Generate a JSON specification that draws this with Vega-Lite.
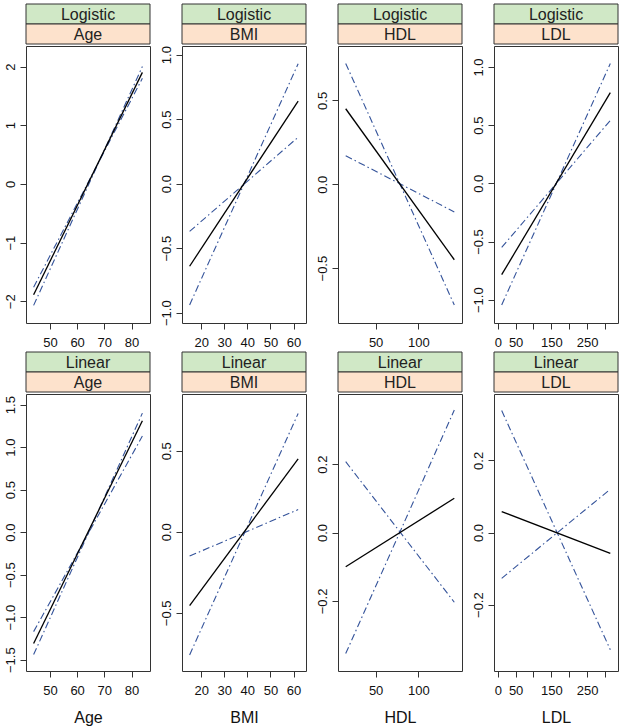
{
  "$schema": "https://vega.github.io/schema/vega-lite/v6.json",
  "padding": {"left": 3, "top": 3, "right": 2, "bottom": 5},
  "background": "white",
  "config": {
    "view": {"stroke": null},
    "font": "Liberation Sans",
    "axis": {"domain": false, "grid": false, "ticks": true, "tickSize": 6, "tickColor": "#333333", "tickWidth": 1, "labelFont": "Liberation Sans", "labelFontSize": 13, "labelColor": "#111111", "labelFlush": false, "labelOverlap": false, "titleFont": "Liberation Sans", "titleFontSize": 16, "titleFontWeight": "normal", "titleColor": "#111111"},
    "axisX": {"labelPadding": 7, "titlePadding": 12},
    "axisY": {"labelAngle": -90, "labelPadding": 3}
  },
  "datasets": {
    "strips": [
      {"panel": "LogAge", "level": "model", "label": "Logistic"}, {"panel": "LogAge", "level": "var", "label": "Age"},
      {"panel": "LogBMI", "level": "model", "label": "Logistic"}, {"panel": "LogBMI", "level": "var", "label": "BMI"},
      {"panel": "LogHDL", "level": "model", "label": "Logistic"}, {"panel": "LogHDL", "level": "var", "label": "HDL"},
      {"panel": "LogLDL", "level": "model", "label": "Logistic"}, {"panel": "LogLDL", "level": "var", "label": "LDL"},
      {"panel": "LinAge", "level": "model", "label": "Linear"}, {"panel": "LinAge", "level": "var", "label": "Age"},
      {"panel": "LinBMI", "level": "model", "label": "Linear"}, {"panel": "LinBMI", "level": "var", "label": "BMI"},
      {"panel": "LinHDL", "level": "model", "label": "Linear"}, {"panel": "LinHDL", "level": "var", "label": "HDL"},
      {"panel": "LinLDL", "level": "model", "label": "Linear"}, {"panel": "LinLDL", "level": "var", "label": "LDL"}
    ],
    "lines": [
      {"panel": "LogAge", "line": "est", "x": 44, "y": -1.89}, {"panel": "LogAge", "line": "est", "x": 84, "y": 1.9},
      {"panel": "LogAge", "line": "b1", "x": 44, "y": -2.07}, {"panel": "LogAge", "line": "b1", "x": 84, "y": 2.0},
      {"panel": "LogAge", "line": "b2", "x": 44, "y": -1.76}, {"panel": "LogAge", "line": "b2", "x": 84, "y": 1.8},
      {"panel": "LogBMI", "line": "est", "x": 15, "y": -0.64}, {"panel": "LogBMI", "line": "est", "x": 62, "y": 0.64},
      {"panel": "LogBMI", "line": "b1", "x": 15, "y": -0.94}, {"panel": "LogBMI", "line": "b1", "x": 62, "y": 0.93},
      {"panel": "LogBMI", "line": "b2", "x": 15, "y": -0.37}, {"panel": "LogBMI", "line": "b2", "x": 62, "y": 0.36},
      {"panel": "LogHDL", "line": "est", "x": 15, "y": 0.45}, {"panel": "LogHDL", "line": "est", "x": 142, "y": -0.45},
      {"panel": "LogHDL", "line": "b1", "x": 15, "y": 0.72}, {"panel": "LogHDL", "line": "b1", "x": 142, "y": -0.72},
      {"panel": "LogHDL", "line": "b2", "x": 15, "y": 0.17}, {"panel": "LogHDL", "line": "b2", "x": 142, "y": -0.165},
      {"panel": "LogLDL", "line": "est", "x": 11, "y": -0.785}, {"panel": "LogLDL", "line": "est", "x": 315, "y": 0.78},
      {"panel": "LogLDL", "line": "b1", "x": 11, "y": -1.045}, {"panel": "LogLDL", "line": "b1", "x": 315, "y": 1.03},
      {"panel": "LogLDL", "line": "b2", "x": 11, "y": -0.55}, {"panel": "LogLDL", "line": "b2", "x": 315, "y": 0.54},
      {"panel": "LinAge", "line": "est", "x": 44, "y": -1.31}, {"panel": "LinAge", "line": "est", "x": 84, "y": 1.31},
      {"panel": "LinAge", "line": "b1", "x": 44, "y": -1.44}, {"panel": "LinAge", "line": "b1", "x": 84, "y": 1.4},
      {"panel": "LinAge", "line": "b2", "x": 44, "y": -1.17}, {"panel": "LinAge", "line": "b2", "x": 84, "y": 1.13},
      {"panel": "LinBMI", "line": "est", "x": 15, "y": -0.455}, {"panel": "LinBMI", "line": "est", "x": 62, "y": 0.45},
      {"panel": "LinBMI", "line": "b1", "x": 15, "y": -0.76}, {"panel": "LinBMI", "line": "b1", "x": 62, "y": 0.73},
      {"panel": "LinBMI", "line": "b2", "x": 15, "y": -0.15}, {"panel": "LinBMI", "line": "b2", "x": 62, "y": 0.137},
      {"panel": "LinHDL", "line": "est", "x": 15, "y": -0.1}, {"panel": "LinHDL", "line": "est", "x": 142, "y": 0.1},
      {"panel": "LinHDL", "line": "b1", "x": 15, "y": -0.354}, {"panel": "LinHDL", "line": "b1", "x": 142, "y": 0.358},
      {"panel": "LinHDL", "line": "b2", "x": 15, "y": 0.207}, {"panel": "LinHDL", "line": "b2", "x": 142, "y": -0.204},
      {"panel": "LinLDL", "line": "est", "x": 11, "y": 0.058}, {"panel": "LinLDL", "line": "est", "x": 315, "y": -0.058},
      {"panel": "LinLDL", "line": "b1", "x": 11, "y": 0.338}, {"panel": "LinLDL", "line": "b1", "x": 315, "y": -0.325},
      {"panel": "LinLDL", "line": "b2", "x": 11, "y": -0.127}, {"panel": "LinLDL", "line": "b2", "x": 315, "y": 0.12}
    ]
  },
  "spacing": 1,
  "vconcat": [
    {
      "spacing": 8,
      "hconcat": [
        {"spacing": 0, "vconcat": [
          {"width": 124, "height": 40, "data": {"name": "strips"}, "transform": [{"filter": "datum.panel === 'LogAge'"}],
           "layer": [
             {"mark": {"type": "rect", "stroke": "#333333", "strokeWidth": 1}, "encoding": {"y": {"field": "level", "type": "ordinal", "axis": null, "scale": {"paddingInner": 0, "paddingOuter": 0}}, "fill": {"field": "level", "type": "nominal", "scale": {"domain": ["model", "var"], "range": ["#d0e8c6", "#fde2cc"]}, "legend": null}}},
             {"mark": {"type": "text", "fontSize": 16, "fill": "#222222", "baseline": "alphabetic", "dy": 6}, "encoding": {"y": {"field": "level", "type": "ordinal", "axis": null}, "text": {"field": "label"}}}
           ]},
          {"width": 124, "height": 277, "view": {"stroke": "#333333"}, "data": {"name": "lines"}, "transform": [{"filter": "datum.panel === 'LogAge'"}],
           "encoding": {
             "x": {"field": "x", "type": "quantitative", "scale": {"domain": [41.2, 86.8], "nice": false, "zero": false}, "axis": {"values": [50, 60, 70, 80], "title": null}},
             "y": {"field": "y", "type": "quantitative", "scale": {"domain": [-2.37, 2.35], "nice": false, "zero": false}, "axis": {"values": [-2, -1, 0, 1, 2], "format": "d", "title": null}}
           },
           "layer": [
             {"transform": [{"filter": "datum.line !== 'est'"}], "mark": {"type": "line", "color": "#34539a", "strokeWidth": 1.1, "strokeDash": [7, 3, 1.5, 3]}, "encoding": {"detail": {"field": "line"}}},
             {"transform": [{"filter": "datum.line === 'est'"}], "mark": {"type": "line", "color": "#000000", "strokeWidth": 1.3}, "encoding": {}}
           ]}
        ]},
        {"spacing": 0, "vconcat": [
          {"width": 124, "height": 40, "data": {"name": "strips"}, "transform": [{"filter": "datum.panel === 'LogBMI'"}],
           "layer": [
             {"mark": {"type": "rect", "stroke": "#333333", "strokeWidth": 1}, "encoding": {"y": {"field": "level", "type": "ordinal", "axis": null, "scale": {"paddingInner": 0, "paddingOuter": 0}}, "fill": {"field": "level", "type": "nominal", "scale": {"domain": ["model", "var"], "range": ["#d0e8c6", "#fde2cc"]}, "legend": null}}},
             {"mark": {"type": "text", "fontSize": 16, "fill": "#222222", "baseline": "alphabetic", "dy": 6}, "encoding": {"y": {"field": "level", "type": "ordinal", "axis": null}, "text": {"field": "label"}}}
           ]},
          {"width": 124, "height": 277, "view": {"stroke": "#333333"}, "data": {"name": "lines"}, "transform": [{"filter": "datum.panel === 'LogBMI'"}],
           "encoding": {
             "x": {"field": "x", "type": "quantitative", "scale": {"domain": [11.7, 65.4], "nice": false, "zero": false}, "axis": {"values": [20, 30, 40, 50, 60], "title": null}},
             "y": {"field": "y", "type": "quantitative", "scale": {"domain": [-1.08, 1.067], "nice": false, "zero": false}, "axis": {"values": [-1, -0.5, 0, 0.5, 1], "format": ".1f", "title": null}}
           },
           "layer": [
             {"transform": [{"filter": "datum.line !== 'est'"}], "mark": {"type": "line", "color": "#34539a", "strokeWidth": 1.1, "strokeDash": [7, 3, 1.5, 3]}, "encoding": {"detail": {"field": "line"}}},
             {"transform": [{"filter": "datum.line === 'est'"}], "mark": {"type": "line", "color": "#000000", "strokeWidth": 1.3}, "encoding": {}}
           ]}
        ]},
        {"spacing": 0, "vconcat": [
          {"width": 124, "height": 40, "data": {"name": "strips"}, "transform": [{"filter": "datum.panel === 'LogHDL'"}],
           "layer": [
             {"mark": {"type": "rect", "stroke": "#333333", "strokeWidth": 1}, "encoding": {"y": {"field": "level", "type": "ordinal", "axis": null, "scale": {"paddingInner": 0, "paddingOuter": 0}}, "fill": {"field": "level", "type": "nominal", "scale": {"domain": ["model", "var"], "range": ["#d0e8c6", "#fde2cc"]}, "legend": null}}},
             {"mark": {"type": "text", "fontSize": 16, "fill": "#222222", "baseline": "alphabetic", "dy": 6}, "encoding": {"y": {"field": "level", "type": "ordinal", "axis": null}, "text": {"field": "label"}}}
           ]},
          {"width": 124, "height": 277, "view": {"stroke": "#333333"}, "data": {"name": "lines"}, "transform": [{"filter": "datum.panel === 'LogHDL'"}],
           "encoding": {
             "x": {"field": "x", "type": "quantitative", "scale": {"domain": [6, 151], "nice": false, "zero": false}, "axis": {"values": [50, 100], "title": null}},
             "y": {"field": "y", "type": "quantitative", "scale": {"domain": [-0.827, 0.824], "nice": false, "zero": false}, "axis": {"values": [-0.5, 0, 0.5], "format": ".1f", "title": null}}
           },
           "layer": [
             {"transform": [{"filter": "datum.line !== 'est'"}], "mark": {"type": "line", "color": "#34539a", "strokeWidth": 1.1, "strokeDash": [7, 3, 1.5, 3]}, "encoding": {"detail": {"field": "line"}}},
             {"transform": [{"filter": "datum.line === 'est'"}], "mark": {"type": "line", "color": "#000000", "strokeWidth": 1.3}, "encoding": {}}
           ]}
        ]},
        {"spacing": 0, "vconcat": [
          {"width": 124, "height": 40, "data": {"name": "strips"}, "transform": [{"filter": "datum.panel === 'LogLDL'"}],
           "layer": [
             {"mark": {"type": "rect", "stroke": "#333333", "strokeWidth": 1}, "encoding": {"y": {"field": "level", "type": "ordinal", "axis": null, "scale": {"paddingInner": 0, "paddingOuter": 0}}, "fill": {"field": "level", "type": "nominal", "scale": {"domain": ["model", "var"], "range": ["#d0e8c6", "#fde2cc"]}, "legend": null}}},
             {"mark": {"type": "text", "fontSize": 16, "fill": "#222222", "baseline": "alphabetic", "dy": 6}, "encoding": {"y": {"field": "level", "type": "ordinal", "axis": null}, "text": {"field": "label"}}}
           ]},
          {"width": 124, "height": 277, "view": {"stroke": "#333333"}, "data": {"name": "lines"}, "transform": [{"filter": "datum.panel === 'LogLDL'"}],
           "encoding": {
             "x": {"field": "x", "type": "quantitative", "scale": {"domain": [-10.5, 336.5], "nice": false, "zero": false}, "axis": {"values": [0, 50, 100, 150, 200, 250, 300], "labelExpr": "datum.value === 100 || datum.value === 200 || datum.value === 300 ? '' : datum.label", "title": null}},
             "y": {"field": "y", "type": "quantitative", "scale": {"domain": [-1.2, 1.18], "nice": false, "zero": false}, "axis": {"values": [-1, -0.5, 0, 0.5, 1], "format": ".1f", "title": null}}
           },
           "layer": [
             {"transform": [{"filter": "datum.line !== 'est'"}], "mark": {"type": "line", "color": "#34539a", "strokeWidth": 1.1, "strokeDash": [7, 3, 1.5, 3]}, "encoding": {"detail": {"field": "line"}}},
             {"transform": [{"filter": "datum.line === 'est'"}], "mark": {"type": "line", "color": "#000000", "strokeWidth": 1.3}, "encoding": {}}
           ]}
        ]}
      ]
    },
    {
      "spacing": 8,
      "hconcat": [
        {"spacing": 0, "vconcat": [
          {"width": 124, "height": 40, "data": {"name": "strips"}, "transform": [{"filter": "datum.panel === 'LinAge'"}],
           "layer": [
             {"mark": {"type": "rect", "stroke": "#333333", "strokeWidth": 1}, "encoding": {"y": {"field": "level", "type": "ordinal", "axis": null, "scale": {"paddingInner": 0, "paddingOuter": 0}}, "fill": {"field": "level", "type": "nominal", "scale": {"domain": ["model", "var"], "range": ["#d0e8c6", "#fde2cc"]}, "legend": null}}},
             {"mark": {"type": "text", "fontSize": 16, "fill": "#222222", "baseline": "alphabetic", "dy": 6}, "encoding": {"y": {"field": "level", "type": "ordinal", "axis": null}, "text": {"field": "label"}}}
           ]},
          {"width": 124, "height": 277, "view": {"stroke": "#333333"}, "data": {"name": "lines"}, "transform": [{"filter": "datum.panel === 'LinAge'"}],
           "encoding": {
             "x": {"field": "x", "type": "quantitative", "scale": {"domain": [41.2, 86.8], "nice": false, "zero": false}, "axis": {"values": [50, 60, 70, 80], "title": "Age"}},
             "y": {"field": "y", "type": "quantitative", "scale": {"domain": [-1.633, 1.625], "nice": false, "zero": false}, "axis": {"values": [-1.5, -1, -0.5, 0, 0.5, 1, 1.5], "format": ".1f", "title": null}}
           },
           "layer": [
             {"transform": [{"filter": "datum.line !== 'est'"}], "mark": {"type": "line", "color": "#34539a", "strokeWidth": 1.1, "strokeDash": [7, 3, 1.5, 3]}, "encoding": {"detail": {"field": "line"}}},
             {"transform": [{"filter": "datum.line === 'est'"}], "mark": {"type": "line", "color": "#000000", "strokeWidth": 1.3}, "encoding": {}}
           ]}
        ]},
        {"spacing": 0, "vconcat": [
          {"width": 124, "height": 40, "data": {"name": "strips"}, "transform": [{"filter": "datum.panel === 'LinBMI'"}],
           "layer": [
             {"mark": {"type": "rect", "stroke": "#333333", "strokeWidth": 1}, "encoding": {"y": {"field": "level", "type": "ordinal", "axis": null, "scale": {"paddingInner": 0, "paddingOuter": 0}}, "fill": {"field": "level", "type": "nominal", "scale": {"domain": ["model", "var"], "range": ["#d0e8c6", "#fde2cc"]}, "legend": null}}},
             {"mark": {"type": "text", "fontSize": 16, "fill": "#222222", "baseline": "alphabetic", "dy": 6}, "encoding": {"y": {"field": "level", "type": "ordinal", "axis": null}, "text": {"field": "label"}}}
           ]},
          {"width": 124, "height": 277, "view": {"stroke": "#333333"}, "data": {"name": "lines"}, "transform": [{"filter": "datum.panel === 'LinBMI'"}],
           "encoding": {
             "x": {"field": "x", "type": "quantitative", "scale": {"domain": [11.7, 65.4], "nice": false, "zero": false}, "axis": {"values": [20, 30, 40, 50, 60], "title": "BMI"}},
             "y": {"field": "y", "type": "quantitative", "scale": {"domain": [-0.859, 0.85], "nice": false, "zero": false}, "axis": {"values": [-0.5, 0, 0.5], "format": ".1f", "title": null}}
           },
           "layer": [
             {"transform": [{"filter": "datum.line !== 'est'"}], "mark": {"type": "line", "color": "#34539a", "strokeWidth": 1.1, "strokeDash": [7, 3, 1.5, 3]}, "encoding": {"detail": {"field": "line"}}},
             {"transform": [{"filter": "datum.line === 'est'"}], "mark": {"type": "line", "color": "#000000", "strokeWidth": 1.3}, "encoding": {}}
           ]}
        ]},
        {"spacing": 0, "vconcat": [
          {"width": 124, "height": 40, "data": {"name": "strips"}, "transform": [{"filter": "datum.panel === 'LinHDL'"}],
           "layer": [
             {"mark": {"type": "rect", "stroke": "#333333", "strokeWidth": 1}, "encoding": {"y": {"field": "level", "type": "ordinal", "axis": null, "scale": {"paddingInner": 0, "paddingOuter": 0}}, "fill": {"field": "level", "type": "nominal", "scale": {"domain": ["model", "var"], "range": ["#d0e8c6", "#fde2cc"]}, "legend": null}}},
             {"mark": {"type": "text", "fontSize": 16, "fill": "#222222", "baseline": "alphabetic", "dy": 6}, "encoding": {"y": {"field": "level", "type": "ordinal", "axis": null}, "text": {"field": "label"}}}
           ]},
          {"width": 124, "height": 277, "view": {"stroke": "#333333"}, "data": {"name": "lines"}, "transform": [{"filter": "datum.panel === 'LinHDL'"}],
           "encoding": {
             "x": {"field": "x", "type": "quantitative", "scale": {"domain": [6, 151], "nice": false, "zero": false}, "axis": {"values": [50, 100], "title": "HDL"}},
             "y": {"field": "y", "type": "quantitative", "scale": {"domain": [-0.405, 0.405], "nice": false, "zero": false}, "axis": {"values": [-0.2, 0, 0.2], "format": ".1f", "title": null}}
           },
           "layer": [
             {"transform": [{"filter": "datum.line !== 'est'"}], "mark": {"type": "line", "color": "#34539a", "strokeWidth": 1.1, "strokeDash": [7, 3, 1.5, 3]}, "encoding": {"detail": {"field": "line"}}},
             {"transform": [{"filter": "datum.line === 'est'"}], "mark": {"type": "line", "color": "#000000", "strokeWidth": 1.3}, "encoding": {}}
           ]}
        ]},
        {"spacing": 0, "vconcat": [
          {"width": 124, "height": 40, "data": {"name": "strips"}, "transform": [{"filter": "datum.panel === 'LinLDL'"}],
           "layer": [
             {"mark": {"type": "rect", "stroke": "#333333", "strokeWidth": 1}, "encoding": {"y": {"field": "level", "type": "ordinal", "axis": null, "scale": {"paddingInner": 0, "paddingOuter": 0}}, "fill": {"field": "level", "type": "nominal", "scale": {"domain": ["model", "var"], "range": ["#d0e8c6", "#fde2cc"]}, "legend": null}}},
             {"mark": {"type": "text", "fontSize": 16, "fill": "#222222", "baseline": "alphabetic", "dy": 6}, "encoding": {"y": {"field": "level", "type": "ordinal", "axis": null}, "text": {"field": "label"}}}
           ]},
          {"width": 124, "height": 277, "view": {"stroke": "#333333"}, "data": {"name": "lines"}, "transform": [{"filter": "datum.panel === 'LinLDL'"}],
           "encoding": {
             "x": {"field": "x", "type": "quantitative", "scale": {"domain": [-10.5, 336.5], "nice": false, "zero": false}, "axis": {"values": [0, 50, 100, 150, 200, 250, 300], "labelExpr": "datum.value === 100 || datum.value === 200 || datum.value === 300 ? '' : datum.label", "title": "LDL"}},
             "y": {"field": "y", "type": "quantitative", "scale": {"domain": [-0.384, 0.384], "nice": false, "zero": false}, "axis": {"values": [-0.2, 0, 0.2], "format": ".1f", "title": null}}
           },
           "layer": [
             {"transform": [{"filter": "datum.line !== 'est'"}], "mark": {"type": "line", "color": "#34539a", "strokeWidth": 1.1, "strokeDash": [7, 3, 1.5, 3]}, "encoding": {"detail": {"field": "line"}}},
             {"transform": [{"filter": "datum.line === 'est'"}], "mark": {"type": "line", "color": "#000000", "strokeWidth": 1.3}, "encoding": {}}
           ]}
        ]}
      ]
    }
  ]
}
